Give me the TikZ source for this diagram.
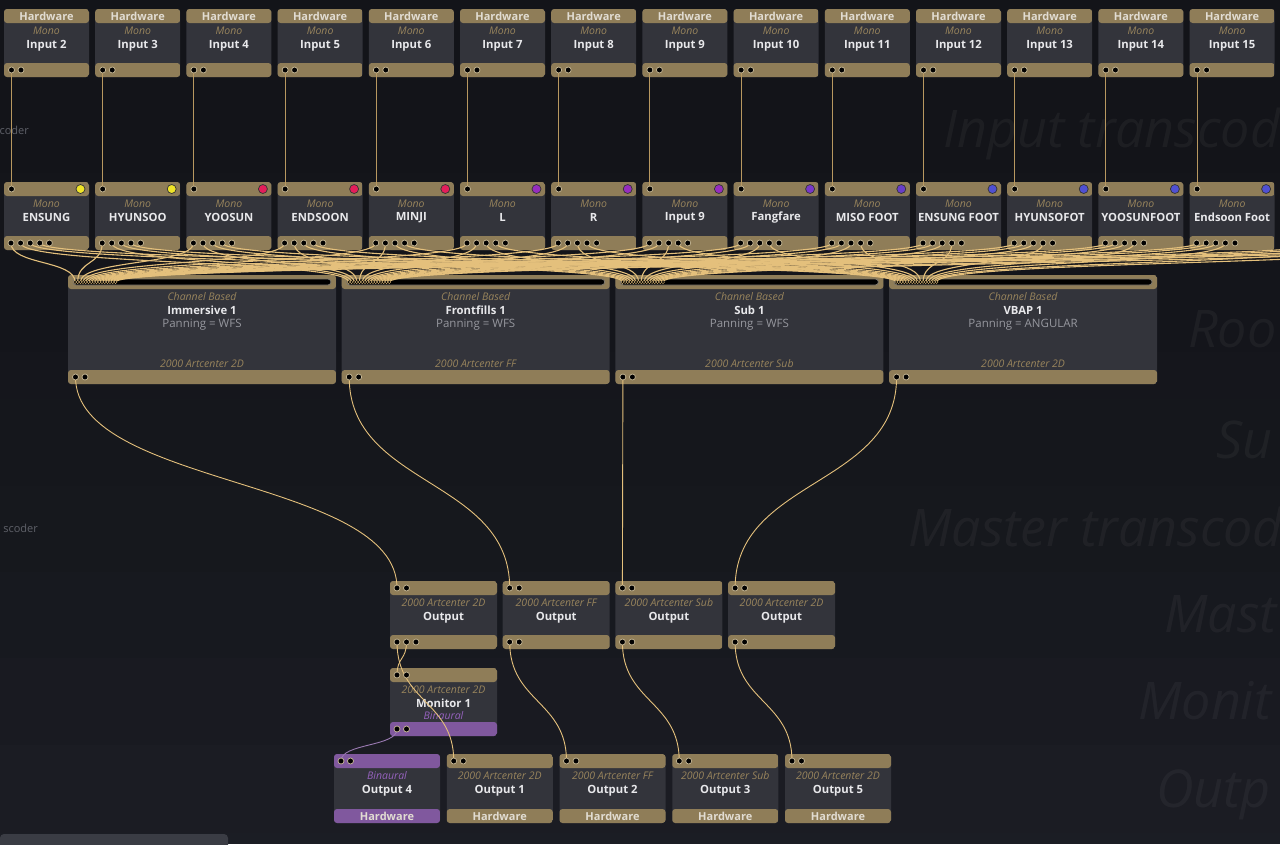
\documentclass[tikz,border=0pt]{standalone}
\usepackage{fontspec}
\setmainfont{Open Sans}
\usetikzlibrary{calc}
\pgfdeclarelayer{front}
\pgfsetlayers{main,front}
\definecolor{bgtop}{RGB}{19,20,25}
\definecolor{bgbot}{RGB}{33,35,43}
\definecolor{scroll}{RGB}{58,60,68}
\definecolor{tan}{RGB}{143,125,88}
\definecolor{body}{RGB}{51,52,59}
\definecolor{lila}{RGB}{128,88,158}
\definecolor{lilatext}{RGB}{150,98,190}
\definecolor{gold}{RGB}{152,132,92}
\definecolor{hwtext}{RGB}{225,220,210}
\definecolor{nametext}{RGB}{232,232,235}
\definecolor{pantext}{RGB}{150,151,158}
\definecolor{sidetext}{RGB}{95,97,105}
\definecolor{wirecol}{RGB}{228,192,124}
\definecolor{feedcol}{RGB}{184,152,96}
\definecolor{jackring}{RGB}{200,185,150}
\definecolor{barring}{RGB}{125,120,110}
\definecolor{cyel}{RGB}{240,228,40}
\definecolor{cred}{RGB}{228,30,90}
\definecolor{cpur}{RGB}{150,45,190}
\definecolor{cvio}{RGB}{120,55,200}
\definecolor{cvib}{RGB}{105,62,200}
\definecolor{cblu}{RGB}{80,80,210}
\begin{document}
\begin{tikzpicture}[
        x=1pt, y=-1pt,
        box/.style={fill=body, rounded corners=3pt, inner sep=0pt, outer sep=0pt},
        headfoot/.style 2 args={path picture={
            \fill[#1] (path picture bounding box.north west) rectangle ([yshift=-14pt]path picture bounding box.north east);
            \fill[#2] (path picture bounding box.south west) rectangle ([yshift=14pt]path picture bounding box.south east);}},
        hwbox/.style={box, minimum width=85pt, minimum height=68pt, headfoot={tan}{tan}},
        chbox/.style={box, minimum width=268pt, minimum height=109pt, headfoot={tan}{tan}},
        outbox/.style={box, minimum width=107pt, minimum height=68pt, headfoot={tan}{tan}},
        monbox/.style={outbox, headfoot={tan}{lila}},
        hwout/.style={box, minimum width=106pt, minimum height=69pt, headfoot={tan}{tan}},
        lilaout/.style={hwout, headfoot={lila}{lila}},
        jack/.style={circle, fill=black, draw=jackring, line width=0.7pt, minimum size=6pt, inner sep=0pt},
        minijack/.style={circle, fill=black, draw=wirecol, line width=0.35pt, minimum size=3.2pt, inner sep=0pt},
        tagdot/.style={circle, draw=black!80, line width=0.7pt, minimum size=9pt, inner sep=0pt},
        bar/.style={fill=black, draw=barring, line width=0.8pt, rounded corners=3pt},
        hwlabel/.style={inner sep=0pt, text=hwtext, font=\fontsize{11}{12}\selectfont\bfseries},
        kind/.style={inner sep=0pt, text=gold, font=\fontsize{10.5}{12}\selectfont\itshape},
        nodetitle/.style={inner sep=0pt, text=nametext, font=\fontsize{11.3}{12}\selectfont\bfseries},
        panning/.style={inner sep=0pt, text=pantext, font=\fontsize{11.5}{12}\selectfont},
        wmark/.style={inner sep=0pt, anchor=base west, text=white, text opacity=0.045, font=\fontsize{52}{52}\selectfont\itshape},
        sidelabel/.style={inner sep=0pt, anchor=base east, text=sidetext, font=\fontsize{11}{12}\selectfont},
        bandline/.style={draw=white, draw opacity=0.03, line width=0.6pt},
        wire/.style={draw=wirecol, line width=0.9pt},
        bundle/.style={draw=wirecol, line width=1.1pt},
        feed/.style={draw=feedcol, line width=1.1pt},
        lilawire/.style={draw=lila!80!white, line width=0.9pt}
        ]
        % frame
        \useasboundingbox (0,0) rectangle (1280,844);
        \clip (0,0) rectangle (1280,844);
        % bands
        \foreach \ya/\yb/\p in {0/87/100, 87/173/97, 173/260/94, 260/352/90, 352/399/86, 399/486/82,
                486/572/76, 572/658/68, 658/745/58, 745/833/46}
        {
            \fill[bgtop!\p!bgbot] (0,\ya) rectangle (1280,\yb);
            \draw[bandline] (0,\yb) -- (1280,\yb);
        }
        \fill[bgtop!40!bgbot] (0,833) rectangle (1280,844);
        \fill[scroll, rounded corners=4pt] (0,834) rectangle (228,852);
        % band titles
        \node[wmark] (wm0) at (943,147) {Input transcod};
        \node[wmark] (wm1) at (1188,347) {Roo};
        \node[wmark] (wm2) at (1216,458) {Su};
        \node[wmark] (wm3) at (908,546) {Master transcod};
        \node[wmark] (wm4) at (1164,632) {Mast};
        \node[wmark] (wm5) at (1138,719) {Monit};
        \node[wmark] (wm6) at (1156,807) {Outp};
        \node[sidelabel] (sl0) at (29,134) {coder};
        \node[sidelabel] (sl1) at (38,532) {scoder};
        % inputs
        \foreach \i in {0,...,13}
        {
            \pgfmathtruncatemacro\k{\i+2}
            \node[hwbox] (in\i) at (46.5+91.2*\i,43) {};
            \node[hwlabel] (in\i-a) at ($(in\i.north)+(0,7.5)$) {Hardware};
            \node[kind] (in\i-b) at ($(in\i.north)+(0,22)$) {Mono};
            \node[nodetitle] (in\i-c) at ($(in\i.north)+(0,36.5)$) {Input \k};
            \begin{pgfonlayer}{front}
                \node[jack] (in\i-o0) at ($(in\i.south west)+(7.5,-7)$) {};
                \node[jack] (in\i-o1) at ($(in\i.south west)+(17,-7)$) {};
            \end{pgfonlayer}
        }
        % input transcoders
        \foreach \i/\lbl/\col in {0/ENSUNG/cyel, 1/HYUNSOO/cyel, 2/YOOSUN/cred, 3/ENDSOON/cred,
                4/MINJI/cred, 5/L/cpur, 6/R/cpur, 7/Input 9/cpur, 8/Fangfare/cvio, 9/MISO FOOT/cvib,
                10/ENSUNG FOOT/cblu, 11/HYUNSOFOT/cblu, 12/YOOSUNFOOT/cblu, 13/Endsoon Foot/cblu}
        {
            \node[hwbox] (tr\i) at (46.5+91.2*\i,216) {};
            \node[kind] (tr\i-b) at ($(tr\i.north)+(0,22)$) {Mono};
            \node[nodetitle] (tr\i-c) at ($(tr\i.north)+(0,35.5)$) {\lbl};
            \begin{pgfonlayer}{front}
                \node[jack] (tr\i-i) at ($(tr\i.north west)+(7.5,7)$) {};
                \node[tagdot, fill=\col] (tr\i-d) at ($(tr\i.north east)+(-8.5,7)$) {};
                \foreach \p in {0,...,4}
                    \node[jack] (tr\i-o\p) at ($(tr\i.south west)+(7+9.6*\p,-7)$) {};
            \end{pgfonlayer}
        }
        % rooms
        \foreach \j/\lbl/\pan/\art in {0/Immersive 1/WFS/2D, 1/Frontfills 1/WFS/FF, 2/Sub 1/WFS/Sub, 3/VBAP 1/ANGULAR/2D}
        {
            \node[chbox] (ch\j) at (202+273.7*\j,329.5) {};
            \draw[bar] ($(ch\j.north west)+(5,4)$) rectangle ($(ch\j.north east)+(-5,10)$);
            \node[kind] (ch\j-a) at ($(ch\j.north)+(0,21.5)$) {Channel Based};
            \node[nodetitle] (ch\j-b) at ($(ch\j.north)+(0,35.5)$) {\lbl};
            \node[panning] (ch\j-c) at ($(ch\j.north)+(0,49.5)$) {Panning = \pan};
            \node[kind] (ch\j-d) at ($(ch\j.south)+(0,-20.5)$) {2000 Artcenter \art};
            \begin{pgfonlayer}{front}
                \foreach \p in {0,...,15}
                    \node[minijack] (ch\j-i\p) at ($(ch\j.north west)+(7+2.7*\p,7)$) {};
                \node[jack] (ch\j-o0) at ($(ch\j.south west)+(7.5,-7)$) {};
                \node[jack] (ch\j-o1) at ($(ch\j.south west)+(17,-7)$) {};
            \end{pgfonlayer}
        }
        % master transcoders
        \foreach \m/\art in {0/2D, 1/FF, 2/Sub, 3/2D}
        {
            \node[outbox] (ms\m) at (443.5+112.7*\m,615) {};
            \node[kind] (ms\m-a) at ($(ms\m.north)+(0,22)$) {2000 Artcenter \art};
            \node[nodetitle] (ms\m-b) at ($(ms\m.north)+(0,36.5)$) {Output};
            \begin{pgfonlayer}{front}
                \node[jack] (ms\m-i0) at ($(ms\m.north west)+(7,7)$) {};
                \node[jack] (ms\m-i1) at ($(ms\m.north west)+(16.5,7)$) {};
                \node[jack] (ms\m-o0) at ($(ms\m.south west)+(7,-7)$) {};
                \node[jack] (ms\m-o1) at ($(ms\m.south west)+(16.5,-7)$) {};
            \end{pgfonlayer}
        }
        \begin{pgfonlayer}{front}
            \node[jack] (ms0-o2) at ($(ms0.south west)+(26,-7)$) {};
        \end{pgfonlayer}
        % monitor
        \node[monbox] (mon) at (443.5,702) {};
        \node[kind] (mon-a) at ($(mon.north)+(0,22)$) {2000 Artcenter 2D};
        \node[nodetitle] (mon-b) at ($(mon.north)+(0,35.5)$) {Monitor 1};
        \node[kind, text=lilatext] (mon-c) at ($(mon.north)+(0,48)$) {Binaural};
        \begin{pgfonlayer}{front}
            \node[jack] (mon-i0) at ($(mon.north west)+(7,7)$) {};
            \node[jack] (mon-i1) at ($(mon.north west)+(16.5,7)$) {};
            \node[jack] (mon-o0) at ($(mon.south west)+(7,-7)$) {};
            \node[jack] (mon-o1) at ($(mon.south west)+(16.5,-7)$) {};
        \end{pgfonlayer}
        % outputs
        \foreach \n/\lbl/\art/\st/\tc in {0/Output 4/Binaural/lilaout/lilatext,
                1/Output 1/2000 Artcenter 2D/hwout/gold, 2/Output 2/2000 Artcenter FF/hwout/gold,
                3/Output 3/2000 Artcenter Sub/hwout/gold, 4/Output 5/2000 Artcenter 2D/hwout/gold}
        {
            \node[\st] (ou\n) at (387+112.75*\n,788.5) {};
            \node[kind, text=\tc] (ou\n-a) at ($(ou\n.north)+(0,22)$) {\art};
            \node[nodetitle] (ou\n-b) at ($(ou\n.north)+(0,36.5)$) {\lbl};
            \node[hwlabel] (ou\n-c) at ($(ou\n.south)+(0,-6.5)$) {Hardware};
            \begin{pgfonlayer}{front}
                \node[jack] (ou\n-i0) at ($(ou\n.north west)+(7,7)$) {};
                \node[jack] (ou\n-i1) at ($(ou\n.north west)+(16.5,7)$) {};
            \end{pgfonlayer}
        }
        % wires
        \foreach \i in {0,...,13}
        {
            \draw[feed] (in\i-o0.center) -- (tr\i-i.center);
            \foreach \k in {0,...,3}
                \draw[bundle] (tr\i-o\k.center) .. controls +(0,22) and +(0,-22) .. (ch\k-i\i.center);
        }
        % wires from further right
        \foreach \i/\xo in {14/1327, 15/1418}
            \foreach \k in {0,...,3}
            {
                \coordinate (off\i-\k) at (\xo+9.6*\k,243);
                \draw[bundle] (off\i-\k) .. controls +(0,22) and +(0,-22) .. (ch\k-i\i.center);
            }
        \draw[wire] (ch0-o0.center) .. controls +(0,110) and +(0,-110) .. (ms0-i0.center);
        \draw[wire] (ch1-o0.center) .. controls +(0,110) and +(0,-110) .. (ms1-i0.center);
        \draw[wire] (ch2-o0.center) -- (ms2-i0.center);
        \draw[wire] (ch3-o0.center) .. controls +(0,110) and +(0,-110) .. (ms3-i0.center);
        \draw[wire] (ms0-o0.center) .. controls +(0,60) and +(0,-60) .. (ou1-i0.center);
        \draw[wire] (ms0-o1.center) .. controls +(0,18) and +(0,-18) .. (mon-i0.center);
        \draw[lilawire] (mon-o0.center) .. controls +(0,18) and +(0,-18) .. (ou0-i0.center);
        \draw[wire] (ms1-o0.center) .. controls +(0,60) and +(0,-60) .. (ou2-i0.center);
        \draw[wire] (ms2-o0.center) .. controls +(0,60) and +(0,-60) .. (ou3-i0.center);
        \draw[wire] (ms3-o0.center) .. controls +(0,60) and +(0,-60) .. (ou4-i0.center);
    \end{tikzpicture}
\end{document}
